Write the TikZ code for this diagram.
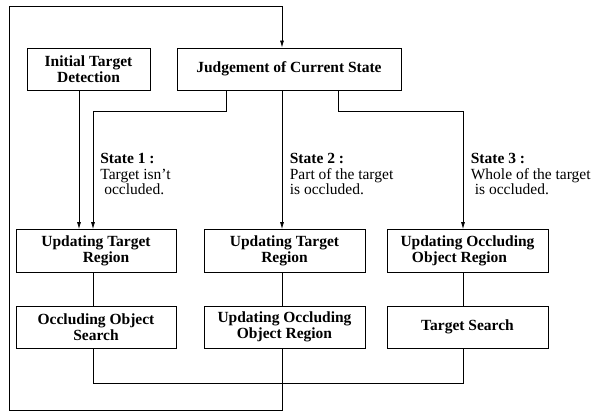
\documentclass[tikz,border=0pt]{standalone}
\usepackage{fontspec}
\setmainfont{Liberation Serif}
\usetikzlibrary{arrows.meta}

\begin{document}
\begin{tikzpicture}[x=1pt, y=-1pt, line width=0.7pt,
		box/.style={draw, line width=0.8pt, inner sep=0pt, align=center,
			font=\fontsize{15.5}{16}\selectfont\bfseries},
		flow/.style={-{Latex[length=7pt,width=4pt]}},
		lbl/.style={anchor=north west, inner sep=0pt, align=left,
			font=\fontsize{15.5}{15.5}\selectfont}]
		\useasboundingbox (0,0) rectangle (593,412);
		
		%Kästen
		\node[box, minimum width=123, minimum height=42] (init) at (88.5,69) {Initial Target\\Detection};
		\node[box, minimum width=224, minimum height=42] (judge) at (289,69) {Judgement of Current State};
		
		\node[box, minimum width=160, minimum height=42.5] (upA) at (96,250.7) {Updating Target\\\hspace*{20pt}Region};
		\node[box, minimum width=161, minimum height=42.5] (upB) at (284.5,250.7) {Updating Target\\Region};
		\node[box, minimum width=161, minimum height=42.5] (upC) at (467.5,250.7) {Updating Occluding\\Object Region\hspace*{16pt}};
		
		\node[box, minimum width=160, minimum height=42] (srA) at (96,327) {Occluding Object\\Search};
		\node[box, minimum width=161, minimum height=42] (srB) at (284.5,327) {Updating Occluding\\Object Region};
		\node[box, minimum width=161, minimum height=42] (srC) at (467.5,327) {Target Search};
		
		%Zustände
		\node[lbl] (stA) at (100,153.3) {\textbf{State 1 :}\\Target isn't\\\hspace*{4pt}occluded.};
		\node[lbl] (stB) at (289.5,153.3) {\textbf{State 2 :}\\Part of the target\\is occluded.};
		\node[lbl] (stC) at (470.5,153.3) {\textbf{State 3 :}\\Whole of the target\\\hspace*{4pt}is occluded.};
		
		%Hilfspunkte
		\coordinate (dA) at (79,0);
		\coordinate (sA) at (93,111);
		\coordinate (kA) at (226,111);
		\coordinate (mid) at (282,0);
		\coordinate (kC) at (338,111);
		\coordinate (sC) at (463,111);
		\coordinate (bA) at (93,383);
		\coordinate (bC) at (463,383);
		\coordinate (lb) at (9,410);
		\coordinate (lt) at (9,6);
		
		%Verbindungen
		\draw[flow] (dA |- init.south) -- (dA |- upA.north);
		\draw[flow] (kA |- judge.south) -- (kA) -- (sA) -- (sA |- upA.north);
		\draw[flow] (mid |- judge.south) -- (mid |- upB.north);
		\draw[flow] (kC |- judge.south) -- (kC) -- (sC) -- (sC |- upC.north);
		
		\draw (sA |- upA.south) -- (sA |- srA.north);
		\draw (mid |- upB.south) -- (mid |- srB.north);
		\draw (sC |- upC.south) -- (sC |- srC.north);
		
		\draw (sA |- srA.south) -- (bA) -- (bC) -- (sC |- srC.south);
		
		%Rückführung
		\draw[flow] (mid |- srB.south) -- (mid |- lb) -- (lb) -- (lt) -- (mid |- lt) -- (mid |- judge.north);
	\end{tikzpicture}
\end{document}
